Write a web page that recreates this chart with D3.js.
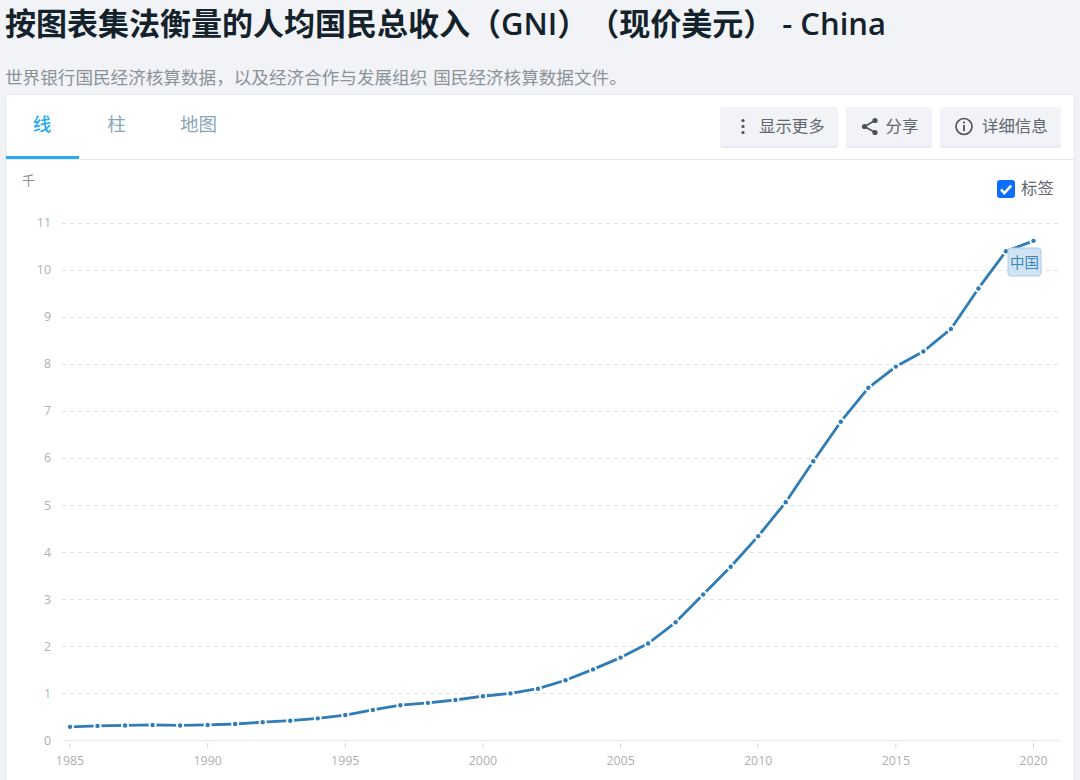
<!DOCTYPE html>
<html><head><meta charset="utf-8">
<script src="https://cdn.jsdelivr.net/npm/d3@7"></script>
<style>
html,body{margin:0;padding:0;background:#f1f3f7;width:1080px;height:780px;overflow:hidden}
svg{display:block}
text{font-family:"Open Sans","Noto Sans CJK SC",sans-serif;text-spacing-trim:space-all;font-kerning:none}
</style></head><body>
<svg id="c" width="1080" height="780"></svg>
<script>
const years=[1985,1986,1987,1988,1989,1990,1991,1992,1993,1994,1995,1996,1997,1998,1999,2000,2001,2002,2003,2004,2005,2006,2007,2008,2009,2010,2011,2012,2013,2014,2015,2016,2017,2018,2019,2020];
const gni=[0.29,0.31,0.32,0.33,0.32,0.33,0.35,0.39,0.42,0.47,0.54,0.65,0.75,0.80,0.86,0.94,1.00,1.10,1.28,1.51,1.76,2.06,2.51,3.10,3.69,4.34,5.06,5.93,6.77,7.49,7.94,8.26,8.74,9.60,10.39,10.61];
const yTicks=[0,1,2,3,4,5,6,7,8,9,10,11];
const xTicks=[1985,1990,1995,2000,2005,2010,2015,2020];
const titleText="按图表集法衡量的人均国民总收入（GNI）（现价美元） - China";
const subtitleText="世界银行国民经济核算数据，以及经济合作与发展组织 国民经济核算数据文件。";
const tabs=["线","柱","地图"];

const svg=d3.select("#c");
svg.append("text").attr("x",5).attr("y",35).attr("font-size",31).attr("font-weight",600).attr("fill","#14222c").text(titleText);
svg.append("text").attr("x",5).attr("y",84).attr("font-size",17.6).attr("fill","#8b9298").attr("style","font-family:'Noto Sans CJK SC';word-spacing:2px").text(subtitleText);

// panel
svg.append("rect").attr("x",5.5).attr("y",94.5).attr("width",1069).attr("height",700).attr("rx",2).attr("fill","#fff").attr("stroke","#e6e9ee");
svg.append("line").attr("x1",6).attr("x2",1074).attr("y1",159.5).attr("y2",159.5).attr("stroke","#e6eaef");
svg.append("rect").attr("x",6).attr("y",156).attr("width",73).attr("height",3).attr("fill","#2aaaf2");
// tabs
const tabX=[42,116.5,198.5], tabC=["#2aaaf2","#8aa5b8","#8aa5b8"];
svg.selectAll("text.tab").data(tabs).join("text").attr("class","tab")
  .attr("x",(d,i)=>tabX[i]).attr("y",130.5).attr("text-anchor","middle").attr("font-size",18.5)
  .attr("fill",(d,i)=>tabC[i]).attr("style","font-family:'Noto Sans CJK SC'").attr("font-weight",(d,i)=>i==0?500:400).text(d=>d);
// buttons
const btns=[{x:720,w:118,t:"显示更多",tx:759},{x:846,w:86,t:"分享",tx:885.5},{x:940,w:121,t:"详细信息",tx:982}];
btns.forEach(b=>{
  svg.append("rect").attr("x",b.x).attr("y",107).attr("width",b.w).attr("height",41).attr("rx",3).attr("fill","#e7e9ed");
  svg.append("rect").attr("x",b.x).attr("y",107).attr("width",b.w).attr("height",39).attr("rx",3).attr("fill","#f1f3f7");
  svg.append("text").attr("x",b.tx).attr("y",132).attr("font-size",16.4).attr("fill","#62676d").attr("style","font-family:'Noto Sans CJK SC'").text(b.t);
});
// icons
[120.5,126.5,132.5].forEach(y=>svg.append("circle").attr("cx",743).attr("cy",y).attr("r",1.6).attr("fill","#4d5258"));
const sh=[[875,120.5],[864.5,126.5],[875,132.5]];
svg.append("polyline").attr("points",sh.map(p=>p.join(",")).join(" ")).attr("fill","none").attr("stroke","#4d5258").attr("stroke-width",1.6);
sh.forEach(p=>svg.append("circle").attr("cx",p[0]).attr("cy",p[1]).attr("r",2.6).attr("fill","#4d5258"));
svg.append("circle").attr("cx",964).attr("cy",126.5).attr("r",8).attr("fill","none").attr("stroke","#4d5258").attr("stroke-width",1.6);
svg.append("circle").attr("cx",964).attr("cy",122.5).attr("r",1.1).attr("fill","#4d5258");
svg.append("line").attr("x1",964).attr("x2",964).attr("y1",125).attr("y2",131).attr("stroke","#4d5258").attr("stroke-width",1.8);
// checkbox
svg.append("rect").attr("x",997).attr("y",180).attr("width",18).attr("height",18).attr("rx",3).attr("fill","#0d6efd");
svg.append("path").attr("d","M1001 189.5l3.4 3.6l6.8-7.4").attr("fill","none").attr("stroke","#fff").attr("stroke-width",2.6);
svg.append("text").attr("x",1021).attr("y",194).attr("font-size",16.4).attr("fill","#62676d").attr("style","font-family:'Noto Sans CJK SC'").text("标签");
svg.append("text").attr("x",22).attr("y",184.5).attr("font-size",13).attr("fill","#8a8f94").attr("style","font-family:'Noto Sans CJK SC'").text("千");

// chart
const x=d3.scaleLinear().domain([1985,2020]).range([70,1033.5]);
const y=d3.scaleLinear().domain([0,11]).range([740.5,222.5]);
const gY=svg.append("g");
gY.selectAll("line").data(yTicks.filter(d=>d>0)).join("line")
  .attr("x1",62).attr("x2",1061).attr("y1",d=>Math.round(y(d))+.5).attr("y2",d=>Math.round(y(d))+.5)
  .attr("stroke","#dfe1e4").attr("stroke-dasharray","4 4");
svg.append("line").attr("x1",63).attr("x2",1061).attr("y1",740.5).attr("y2",740.5).attr("stroke","#eceef1").attr("stroke-width",1.5);
gY.selectAll("text").data(yTicks).join("text").attr("x",51).attr("y",d=>y(d)+4.5).attr("text-anchor","end")
  .attr("font-size",12.4).attr("fill","#adb0b3").text(d=>d);
const gX=svg.append("g");
gX.selectAll("line").data(xTicks).join("line").attr("x1",d=>x(d)).attr("x2",d=>x(d)).attr("y1",743).attr("y2",748).attr("stroke","#d5d7da");
gX.selectAll("text").data(xTicks).join("text").attr("x",d=>x(d)).attr("y",765).attr("text-anchor","middle")
  .attr("font-size",12.4).attr("fill","#adb0b3").text(d=>d);

const pts=years.map((yr,i)=>[yr,gni[i]]);
svg.append("path").datum(pts).attr("fill","none").attr("stroke","#2f7cb6").attr("stroke-width",2.8)
  .attr("stroke-linejoin","round").attr("d",d3.line().x(d=>x(d[0])).y(d=>y(d[1])));
svg.append("g").selectAll("circle").data(pts).join("circle")
  .attr("cx",d=>x(d[0])).attr("cy",d=>y(d[1])).attr("r",4).attr("fill","#fff");
svg.append("g").selectAll("circle").data(pts).join("circle")
  .attr("cx",d=>x(d[0])).attr("cy",d=>y(d[1])).attr("r",2.2).attr("fill","#2f7cb6");

// label
svg.append("rect").attr("x",1008).attr("y",248).attr("width",33).attr("height",28).attr("rx",3).attr("fill","#cfe3f3").attr("stroke","#a8cde8");
svg.append("text").attr("x",1024.5).attr("y",267.5).attr("text-anchor","middle").attr("font-size",14.5).attr("fill","#3d86bd").attr("style","font-family:'Noto Sans CJK SC'").text("中国");
</script></body></html>
